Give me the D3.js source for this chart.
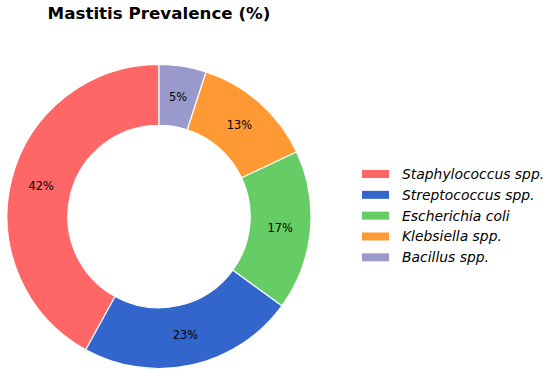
<!DOCTYPE html>
<html><head><meta charset="utf-8">
<script src="https://cdn.jsdelivr.net/npm/d3@7"></script>
<style>body{margin:0;background:#fff}svg{display:block}</style>
</head><body>
<svg id="c" width="550" height="376"></svg>
<script>
const categories = ["Staphylococcus spp.", "Streptococcus spp.", "Escherichia coli", "Klebsiella spp.", "Bacillus spp."];
const values = [42, 23, 17, 13, 5];
const colors = ["#ff6666", "#3366cc", "#66cc66", "#ff9933", "#9999cc"];
const title = "Mastitis Prevalence (%)";

const svg = d3.select("#c");
const cx = 159, cy = 216.5, R = 152, r = R * 0.6;
const font = "'DejaVu Sans', sans-serif";

svg.append("text").attr("x", cx).attr("y", 19).attr("text-anchor", "middle")
  .attr("font-family", font).attr("font-weight", "bold").attr("font-size", 16.7)
  .attr("fill", "#000").text(title);

const data = categories.map((c, i) => ({c, v: values[i], col: colors[i]}));
const total = d3.sum(values);
// counterclockwise from top
const pie = d3.pie().value(d => d.v).sort(null).startAngle(0).endAngle(-2 * Math.PI);
const arcs = pie(data);
const arc = d3.arc().innerRadius(r).outerRadius(R);
const labelArc = d3.arc().innerRadius(R * 0.8).outerRadius(R * 0.8);

const g = svg.append("g").attr("transform", `translate(${cx},${cy})`);
g.selectAll("path").data(arcs).join("path")
  .attr("d", arc).attr("fill", d => d.data.col)
  .attr("stroke", "#fff").attr("stroke-width", 1.2).attr("stroke-linejoin", "round");

g.selectAll("text.pct").data(arcs).join("text").attr("class", "pct")
  .attr("transform", d => `translate(${labelArc.centroid(d)})`)
  .attr("text-anchor", "middle").attr("dy", "0.36em")
  .attr("font-family", font).attr("font-size", 11.4).attr("fill", "#000")
  .text(d => Math.round(d.data.v / total * 100) + "%");

const ly = d3.scalePoint().domain(categories).range([174, 257.3]);
const lg = svg.append("g");
lg.selectAll("rect").data(data).join("rect")
  .attr("x", 362).attr("y", d => ly(d.c) - 4).attr("width", 27).attr("height", 8)
  .attr("fill", d => d.col);
lg.selectAll("text").data(data).join("text")
  .attr("x", 402).attr("y", d => ly(d.c)).attr("dy", "0.36em")
  .attr("font-family", font).attr("font-style", "italic").attr("font-size", 13.9)
  .attr("fill", "#000").text(d => d.c);
</script>
</body></html>
